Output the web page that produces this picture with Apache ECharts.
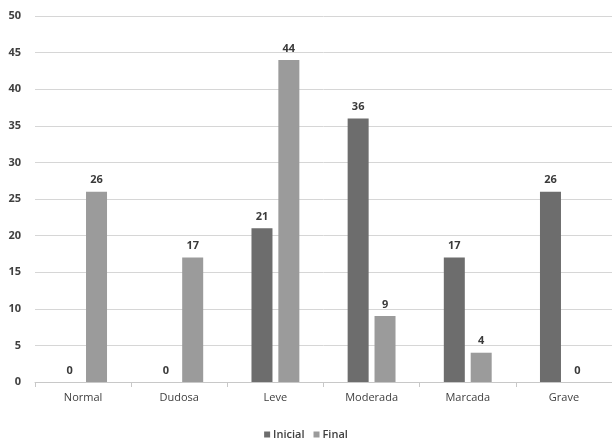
<!DOCTYPE html>
<html>
<head>
<meta charset="utf-8">
<script src="https://cdn.jsdelivr.net/npm/echarts@6/dist/echarts.min.js"></script>
<style>
  html, body { margin: 0; padding: 0; background: #fff; }
  #chart { width: 612px; height: 439px; }
</style>
</head>
<body>
<div id="chart"></div>
<script>
// Severity categories and counts at start and end
const categories = ['Normal', 'Dudosa', 'Leve', 'Moderada', 'Marcada', 'Grave'];
const inicial = [0, 0, 21, 36, 17, 26];
const final = [26, 17, 44, 9, 4, 0];
const seriesNames = ['Inicial', 'Final'];

const fontFamily = '"Open Sans", "Noto Sans", sans-serif';
const textColor = '#404040';

const chart = echarts.init(document.getElementById('chart'));

const labelStyle = {
  show: true,
  position: 'top',
  distance: 6,
  color: '#3a3a3a',
  fontFamily: fontFamily,
  fontSize: 11,
  fontWeight: 'bold'
};

chart.setOption({
  animation: false,
  backgroundColor: '#ffffff',
  grid: { left: 35, right: 0, top: 16, bottom: 57, containLabel: false },
  legend: {
    data: seriesNames,
    top: 424,
    left: 'center',
    itemWidth: 6,
    itemHeight: 6,
    itemGap: 9,
    icon: 'rect',
    textStyle: { color: textColor, fontFamily: fontFamily, fontSize: 11, fontWeight: 600, padding: [0, 0, 0, -2] }
  },
  xAxis: {
    type: 'category',
    data: categories,
    axisLine: { lineStyle: { color: '#c8c8c8' } },
    axisTick: { show: true, length: 5, lineStyle: { color: '#c8c8c8' } },
    axisLabel: { color: textColor, fontFamily: fontFamily, fontSize: 11, margin: 10 }
  },
  yAxis: {
    type: 'value',
    min: 0,
    max: 50,
    interval: 5,
    axisLine: { show: false },
    axisTick: { show: false },
    axisLabel: { color: textColor, fontFamily: fontFamily, fontSize: 11, margin: 14, fontWeight: 'bold' },
    splitLine: { lineStyle: { color: '#d6d6d6', width: 1 } }
  },
  series: [
    {
      name: seriesNames[0],
      type: 'bar',
      data: inicial,
      barWidth: 21,
      barGap: '28%',
      itemStyle: { color: '#6d6d6d' },
      label: labelStyle
    },
    {
      name: seriesNames[1],
      type: 'bar',
      data: final,
      barWidth: 21,
      itemStyle: { color: '#9b9b9b' },
      label: labelStyle
    }
  ]
});
</script>
</body>
</html>
